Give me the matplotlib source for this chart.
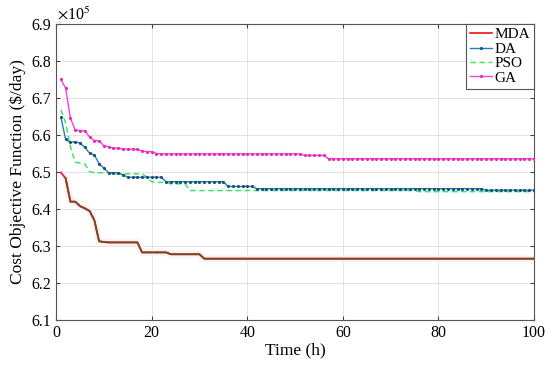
import numpy as np
import matplotlib
matplotlib.use("Agg")
import matplotlib.pyplot as plt

plt.rcParams["font.family"] = ["Liberation Serif", "DejaVu Serif"]
plt.rcParams["mathtext.fontset"] = "stix"

# cost values in units of 1e5 $/day, stored as (value, number of hours) runs, t = 1..100
mda_runs = [(6.499, 1), (6.483, 1), (6.420, 1), (6.420, 1), (6.408, 1), (6.402, 1),
            (6.395, 1), (6.370, 1), (6.313, 1), (6.311, 1), (6.310, 7), (6.283, 6),
            (6.278, 7), (6.266, 70)]
da_runs = [(6.648, 1), (6.588, 1), (6.580, 1), (6.582, 1), (6.578, 1), (6.567, 1),
           (6.551, 1), (6.546, 1), (6.523, 1), (6.510, 1), (6.498, 3), (6.492, 1),
           (6.486, 8), (6.474, 13), (6.461, 6), (6.455, 48), (6.451, 11)]
pso_runs = [(6.668, 1), (6.632, 1), (6.568, 1), (6.527, 1), (6.524, 1), (6.522, 1),
            (6.501, 1), (6.498, 4), (6.495, 7), (6.486, 1), (6.474, 1), (6.472, 3),
            (6.468, 4), (6.450, 48), (6.447, 25)]
ga_runs = [(6.750, 1), (6.726, 1), (6.645, 1), (6.614, 1), (6.612, 1), (6.611, 1),
           (6.595, 1), (6.585, 1), (6.584, 1), (6.571, 1), (6.568, 1), (6.565, 2),
           (6.562, 3), (6.561, 1), (6.557, 1), (6.555, 2), (6.550, 1), (6.549, 30),
           (6.545, 5), (6.536, 44)]

x_ticks = [0, 20, 40, 60, 80, 100]
y_ticks = [6.1, 6.2, 6.3, 6.4, 6.5, 6.6, 6.7, 6.8, 6.9]


def expand(runs):
    vals = [v for v, n in runs]
    counts = [n for v, n in runs]
    return np.repeat(vals, counts)


mda = expand(mda_runs)
da = expand(da_runs)
pso = expand(pso_runs)
ga = expand(ga_runs)
hours = np.arange(1, len(mda) + 1)

fig = plt.figure(figsize=(5.5, 3.68), dpi=100)
ax = fig.add_axes([0.102, 0.130, 0.869, 0.805])

# faint halo under the MDA curve
ax.plot(hours, mda, color="#fdf1f8", lw=5, zorder=1, solid_capstyle="butt")

ax.plot(hours, mda, color="#e8141c", lw=1.2, label="MDA", zorder=3)
ax.plot(hours[1:], mda[1:], color="#7a4a1e", lw=1.4, zorder=4)
ax.plot(hours, da, color="#1f82b4", lw=1.0, marker=".", ms=2.5,
        mfc="#1a4f7a", mec="#1a4f7a", label="DA", zorder=3)
ax.plot(hours, pso, color="#2ee65a", lw=1.0, ls=(0, (4, 2.5)), label="PSO", zorder=2)
ax.plot(hours, ga, color="#ff3fd0", lw=1.0, marker=".", ms=2.5,
        mfc="#e62ab8", mec="#e62ab8", label="GA", zorder=3)

ax.set_xlim(0, 100)
ax.set_ylim(6.1, 6.9)
ax.set_xticks(x_ticks)
ax.set_yticks(y_ticks)
ax.set_yticklabels([f"{v:.1f}" for v in y_ticks])
ax.grid(True, color="#e3e3e3", lw=0.7)
ax.set_axisbelow(True)
ax.tick_params(direction="in", length=3, labelsize=11.5, top=True, right=True,
               color="#444444")
for s in ax.spines.values():
    s.set_color("#555555")
    s.set_linewidth(0.8)

ax.set_xlabel("Time (h)", fontsize=12.5, labelpad=1)
ax.set_ylabel("Cost Objective Function (\\$/day)", fontsize=12.5, labelpad=4)
fig.text(0.104, 0.958, r"$\times$10$^5$", fontsize=11.5, ha="left", va="center")

leg = ax.legend(loc="upper right", fontsize=11, handlelength=1.4, handletextpad=0.2,
                borderpad=0.25, labelspacing=0.05, borderaxespad=0.0,
                fancybox=False, framealpha=1, edgecolor="#555555", markerscale=1.0)
leg.get_frame().set_linewidth(0.8)

fig.savefig("out.png", dpi=100)
